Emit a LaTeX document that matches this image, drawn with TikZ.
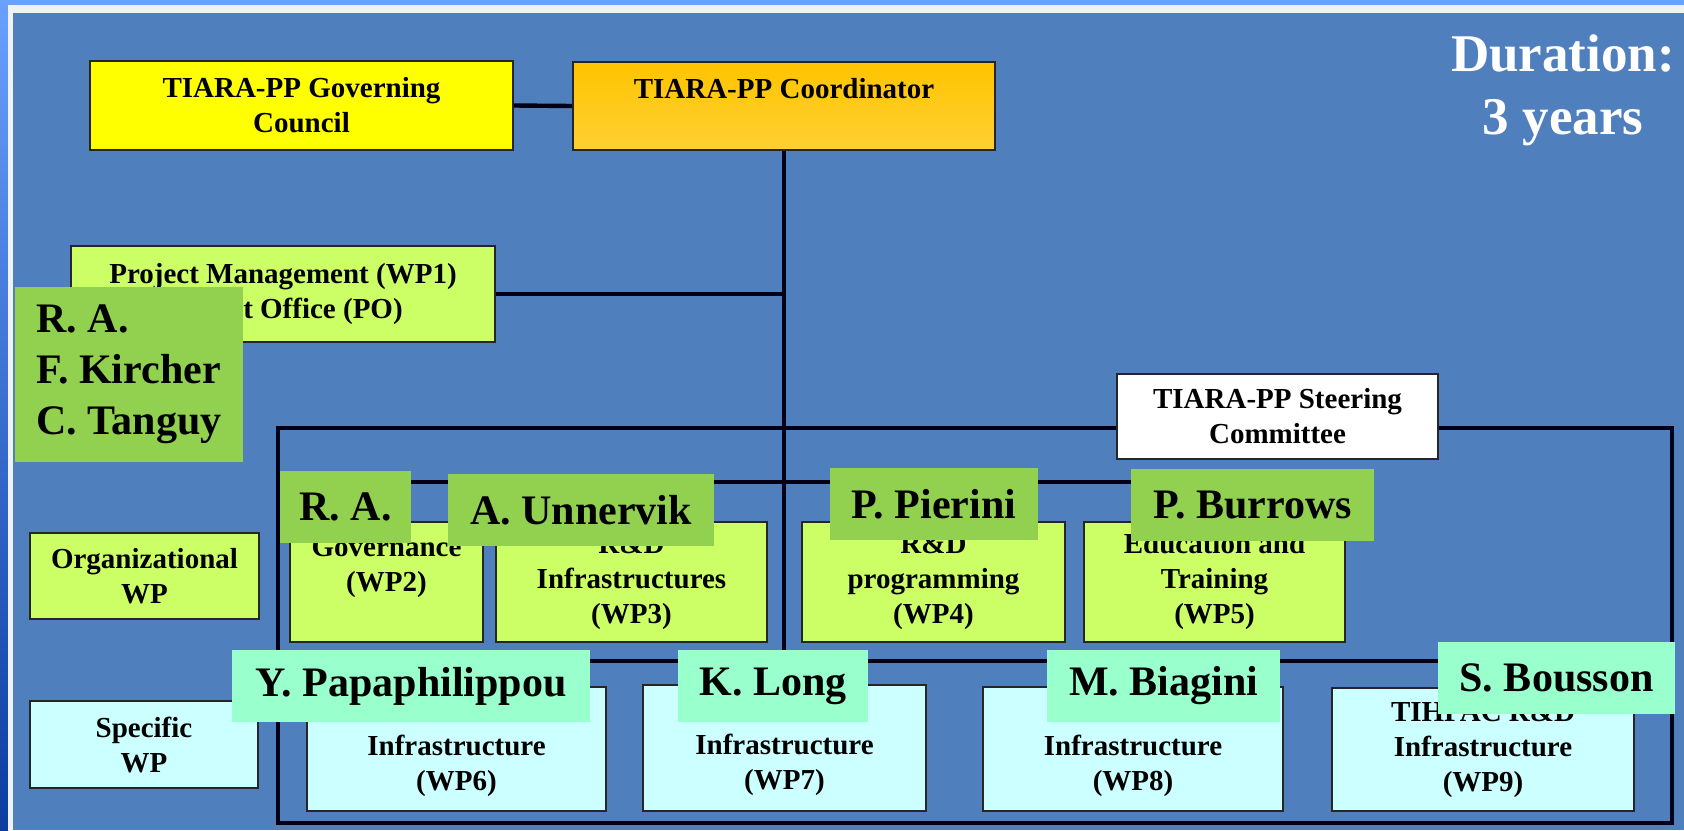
\documentclass[tikz,border=0pt]{standalone}
\usepackage{fontspec}
\setmainfont{Liberation Serif}
\definecolor{bgblue}{HTML}{4F80BD}
\definecolor{topblue}{HTML}{6AA0FF}
\definecolor{darkside}{HTML}{0B3C9E}
\definecolor{rim}{HTML}{F0F2F5}
\definecolor{govyellow}{HTML}{FFFF00}
\definecolor{coordtop}{HTML}{FFC400}
\definecolor{coordbot}{HTML}{FFD033}
\definecolor{orggreen}{HTML}{CCFF66}
\definecolor{speccyan}{HTML}{CCFFFF}
\definecolor{labgreen}{HTML}{92D050}
\definecolor{labmint}{HTML}{99FFCC}
\newcommand{\boxfont}{\fontsize{14.5}{17.5}\selectfont\bfseries}
\newcommand{\labfont}{\fontsize{21}{25.5}\selectfont\bfseries}
\newcommand{\durfont}{\fontsize{26.5}{31.5}\selectfont\bfseries}
\tikzset{
  box/.style={draw=black!85, line width=0.9pt, inner sep=0pt, align=center, font=\boxfont, text=black},
  govbox/.style={box, fill=govyellow},
  coordbox/.style={box, top color=coordtop, bottom color=coordbot},
  orgbox/.style={box, fill=orggreen},
  specbox/.style={box, fill=speccyan},
  steerbox/.style={box, fill=white},
  conn/.style={line width=2.2pt, black!90!blue},
  framebox/.style={draw=black!90!blue, line width=2.2pt, inner sep=0pt},
  lab/.style={fill=labgreen, inner sep=0pt, font=\labfont, text=black, minimum height=36pt},
  labm/.style={fill=labmint, inner sep=0pt, font=\labfont, text=black, minimum height=36pt},
  dur/.style={inner sep=0pt, align=center, font=\durfont, text=white}
}
\begin{document}
\begin{tikzpicture}[x=0.5pt,y=-0.5pt]
\useasboundingbox (0,0) rectangle (1684,830);
% slide background
\fill[topblue] (0,0) rectangle (1684,830);
\shade[top color=topblue, bottom color=darkside] (0,0) rectangle (8,830);
\fill[rim] (8,5) rectangle (1684,830);
\fill[bgblue] (13,13) rectangle (1684,830);

% steering frame
\node[framebox, minimum width=697pt, minimum height=197.5pt] (frame) at (975,625.5) {};

% boxes
\node[govbox, minimum width=211.5pt, minimum height=44.5pt] (gov) at (301.5,105.5) {TIARA-PP Governing\\Council};
\node[coordbox, minimum width=211pt, minimum height=44pt] (coord) at (784,106) {TIARA-PP Coordinator\\\mbox{}};
\node[orgbox, minimum width=212pt, minimum height=48pt] (wp1) at (283,294) {Project Management (WP1)\\Project Office (PO)};
\node[orgbox, minimum width=114.5pt, minimum height=43pt] (org) at (144.5,576) {Organizational\\WP};
\node[specbox, minimum width=114pt, minimum height=43.5pt] (spec) at (144,744.5) {Specific\\WP};

\node[orgbox, minimum width=96.5pt, minimum height=60pt] (wp2) at (386.5,582) {Governance\\(WP2)\\\mbox{}};
\node[orgbox, minimum width=135.5pt, minimum height=60pt] (wp3) at (631.5,582) {R\&D\\Infrastructures\\(WP3)};
\node[orgbox, minimum width=131.5pt, minimum height=60pt] (wp4) at (933.5,582) {R\&D\\programming\\(WP4)};
\node[orgbox, minimum width=130.5pt, minimum height=60pt] (wp5) at (1214.5,582) {Education and\\Training\\(WP5)};

\node[specbox, minimum width=149.5pt, minimum height=62pt] (wp6) at (456.5,749) {SVET R\&D\\Infrastructure\\(WP6)};
\node[specbox, minimum width=141.5pt, minimum height=63pt] (wp7) at (784.5,748) {MICE R\&D\\Infrastructure\\(WP7)};
\node[specbox, minimum width=150pt, minimum height=62pt] (wp8) at (1133,749) {HGRF R\&D\\Infrastructure\\(WP8)};
\node[specbox, minimum width=151pt, minimum height=61.5pt] (wp9) at (1483,749.5) {TIHPAC R\&D\\Infrastructure\\(WP9)};

% connectors
\coordinate (ob) at (784,482);
\coordinate (sb) at (784,661);
\draw[conn] (gov.east) -- (coord.west);
\draw[conn] (coord.south) -- (coord.south |- wp7.north);
\draw[conn] (wp1.east) -- (wp1.east -| coord.south);
\draw[conn] (wp2.north) |- (ob -| wp5.north) -- (wp5.north);
\draw[conn] (wp3.north) -- (wp3.north |- ob);
\draw[conn] (wp4.north) -- (wp4.north |- ob);
\draw[conn] (wp6.north) |- (sb -| wp9.north) -- (wp9.north);
\draw[conn] (wp7.north) -- (wp7.north |- sb);
\draw[conn] (wp8.north) -- (wp8.north |- sb);

% steering committee on the frame
\node[steerbox, minimum width=160.5pt, minimum height=42.5pt] (steer) at (1277.5,416.5) {TIARA-PP Steering\\Committee};

% name labels
\node[lab, minimum width=114pt, minimum height=87.5pt, align=left] (lpo) at (129,374.5) {R. A.\\F. Kircher\\C. Tanguy};
\node[lab, minimum width=65.5pt] (lwp2) at (345.5,507) {R. A.};
\node[lab, minimum width=133pt] (lwp3) at (581,510) {A. Unnervik};
\node[lab, minimum width=104pt] (lwp4) at (934,504) {P. Pierini};
\node[lab, minimum width=121.5pt] (lwp5) at (1252.5,505) {P. Burrows};
\node[labm, minimum width=179pt] (lwp6) at (411,686) {Y. Papaphilippou};
\node[labm, minimum width=95pt] (lwp7) at (773,686) {K. Long};
\node[labm, minimum width=116.5pt] (lwp8) at (1163.5,686) {M. Biagini};
\node[labm, minimum width=118.5pt] (lwp9) at (1556.5,678) {S. Bousson};

% duration
\node[dur] (dur) at (1563,90) {Duration:\\3 years};
\end{tikzpicture}
\end{document}
